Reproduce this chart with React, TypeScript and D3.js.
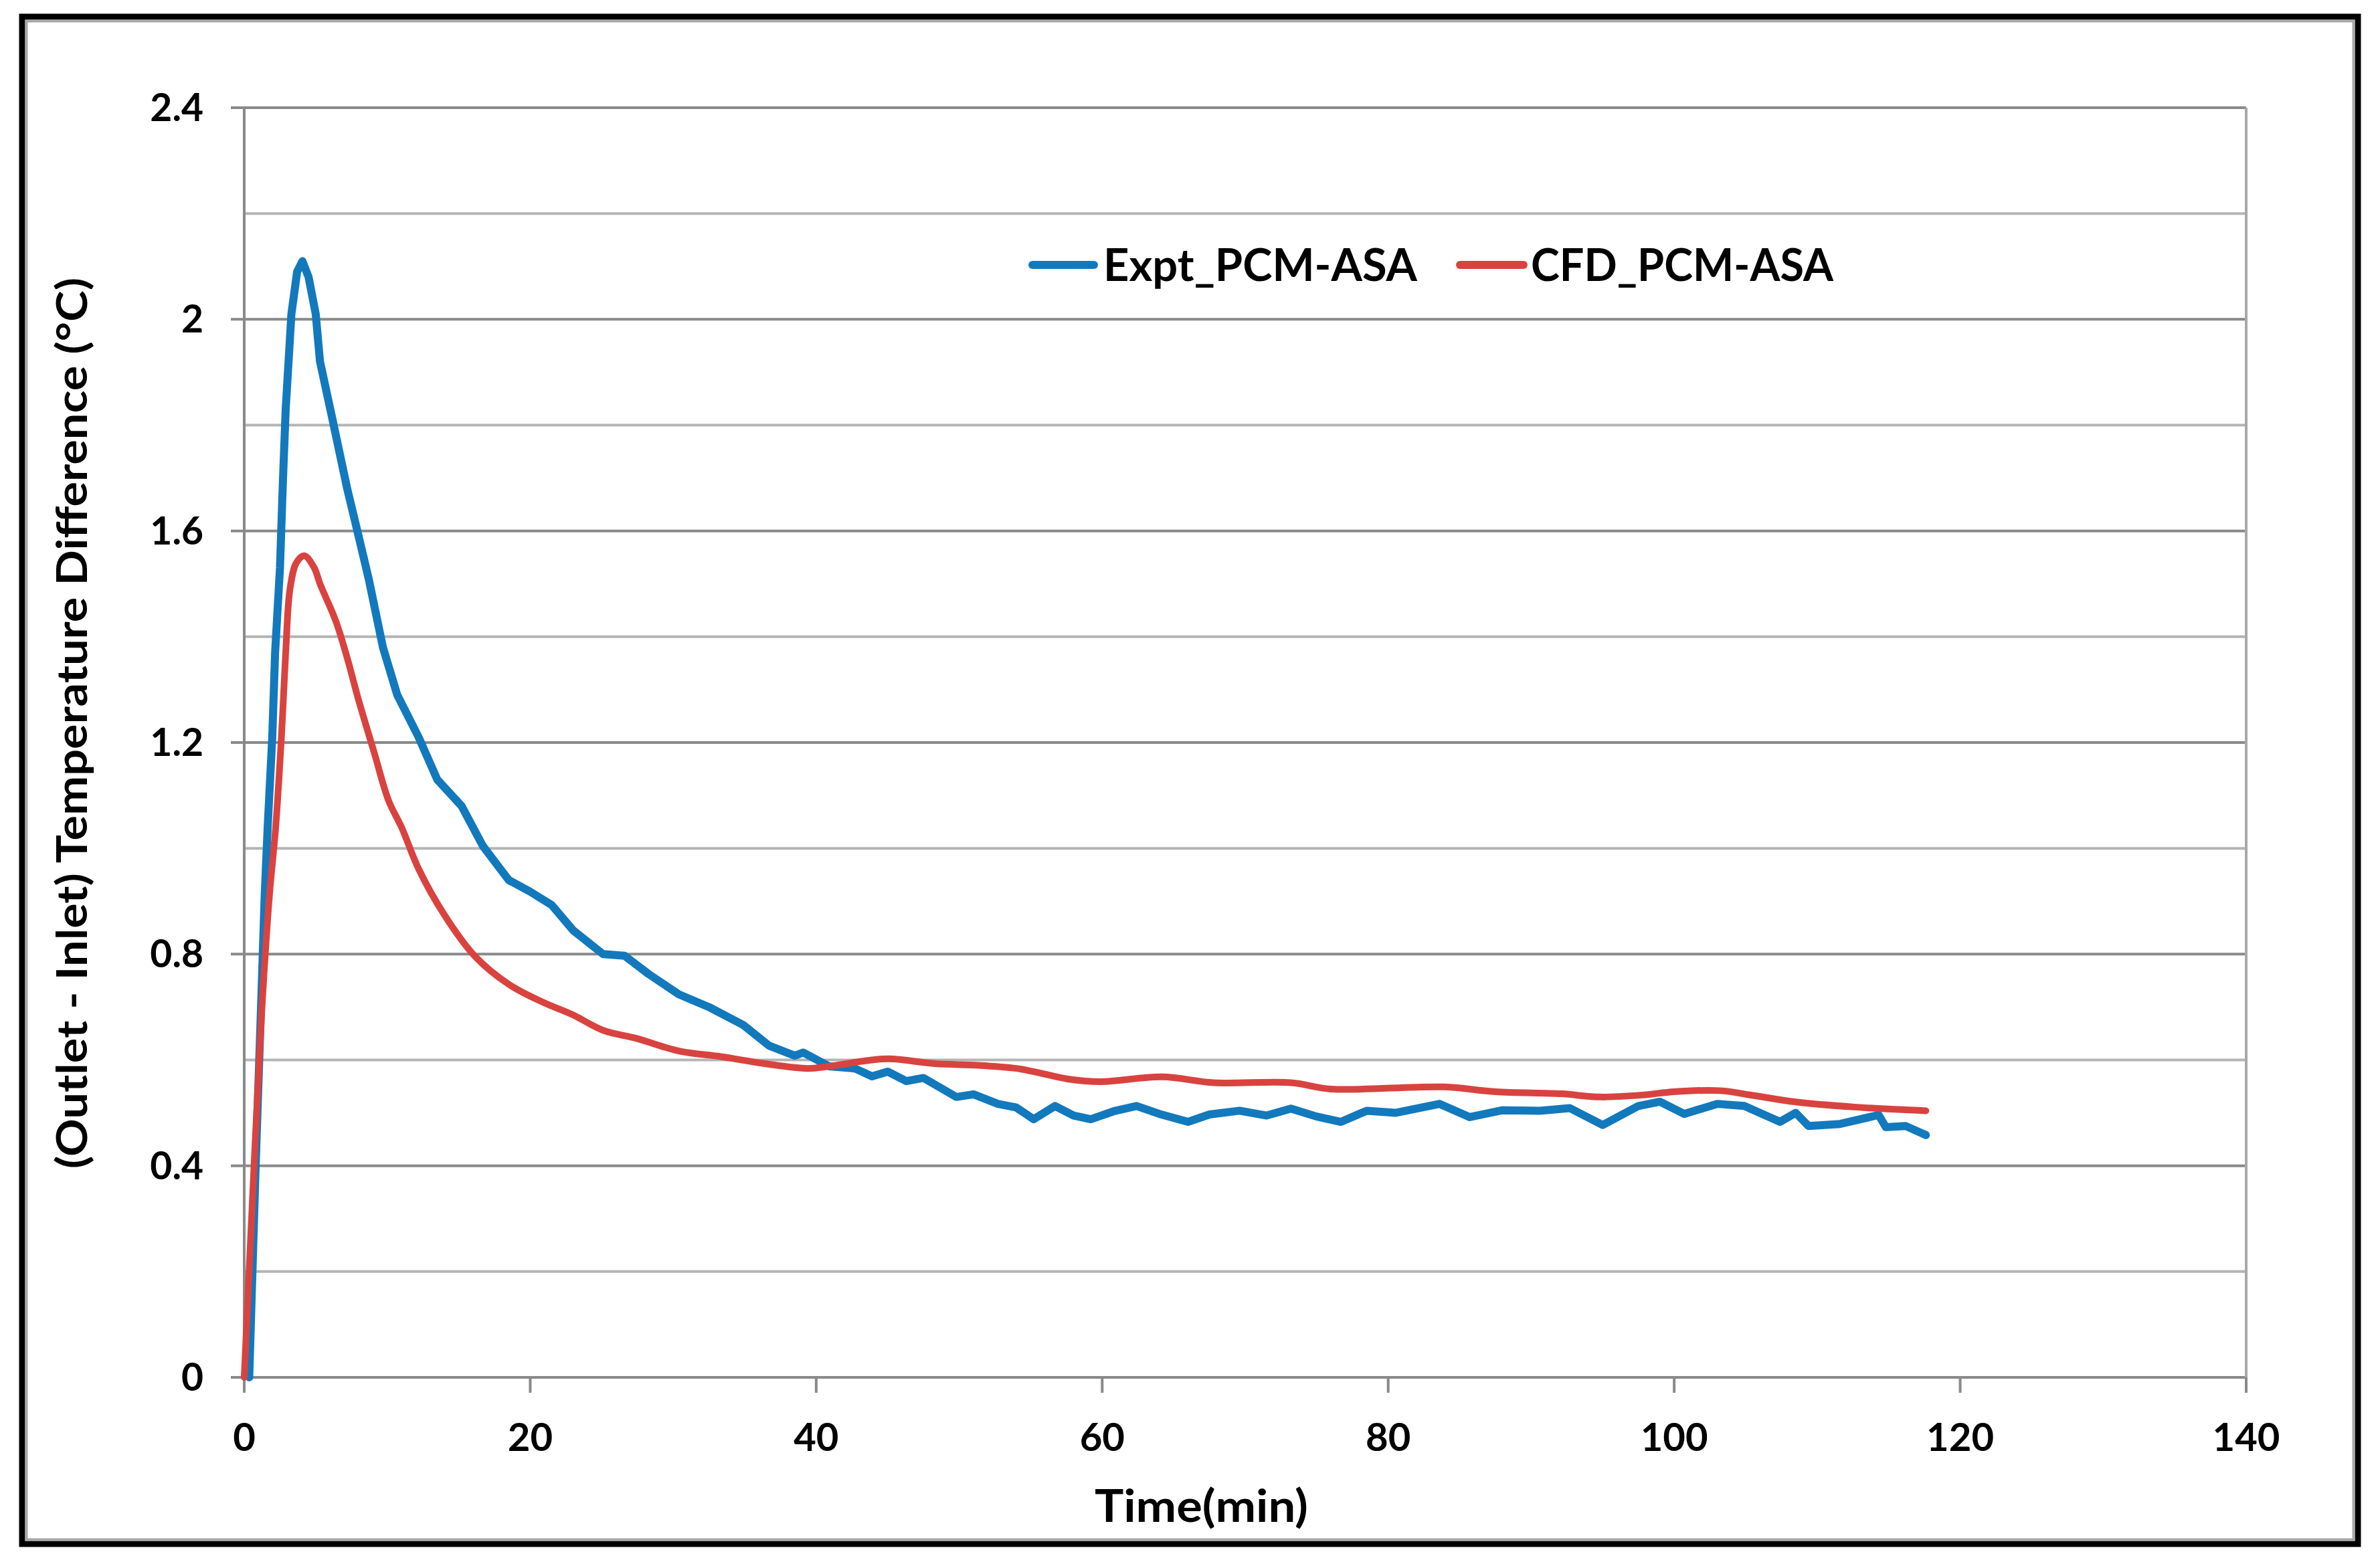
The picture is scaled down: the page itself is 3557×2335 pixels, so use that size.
import React from "react";
import * as d3 from "d3";

// values
const exptTime = [
  0.35, 0.8, 1.2, 1.43, 1.64, 1.96, 2.16, 2.5, 2.7, 2.9, 3.3, 3.7, 4.07, 4.5, 5.0, 5.3, 6.1, 7.2, 8.0, 8.7,
  9.7, 10.7, 12.2, 13.5, 15.2, 16.7, 18.5, 20.0, 21.5, 23.0, 25.1, 26.6, 28.3, 30.4, 32.5, 34.9, 36.7, 38.5,
  39.1, 40.9, 42.7, 43.9, 45.0, 46.3, 47.5, 49.8, 51.0, 52.7, 54.0, 55.2, 56.7, 58.0, 59.2, 60.8, 62.4, 64.0,
  66.0, 67.5, 69.6, 71.5, 73.2, 75.0, 76.7, 78.5, 80.5, 83.6, 85.7, 88.0, 90.6, 92.7, 95.0, 97.5, 99.0, 100.7,
  103.0, 104.9, 107.4, 108.5, 109.4, 111.6, 114.3, 114.8, 116.2, 117.6,
];
const exptValue = [
  0, 0.4, 0.72, 0.91, 1.04, 1.21, 1.37, 1.53, 1.69, 1.83, 2.01, 2.09, 2.11, 2.08, 2.01, 1.92, 1.82, 1.68, 1.59, 1.51,
  1.38, 1.29, 1.21, 1.13, 1.08, 1.004, 0.94, 0.918, 0.893, 0.845, 0.8, 0.797, 0.762, 0.724, 0.7, 0.666, 0.627, 0.608,
  0.614, 0.588, 0.584, 0.569, 0.578, 0.56, 0.566, 0.53, 0.535, 0.517, 0.51, 0.488, 0.513, 0.495, 0.488, 0.503, 0.513, 0.498,
  0.483, 0.497, 0.504, 0.495, 0.508, 0.493, 0.483, 0.504, 0.5, 0.517, 0.492, 0.505, 0.504, 0.509, 0.477, 0.513, 0.521, 0.498,
  0.517, 0.513, 0.483, 0.5, 0.475, 0.479, 0.496, 0.473, 0.475, 0.458,
];

const cfdTime = [
  0, 0.6, 1.2, 1.76, 2.2, 2.6, 2.9, 3.2, 3.65, 4.2, 4.9, 5.3, 6.4, 7.2, 8.0, 9.1, 10.1, 11.0, 12.2, 14.0,
  16.1, 18.5, 20.9, 23.0, 25.1, 27.4, 30.4, 33.4, 36.4, 39.4, 40.9, 43.9, 45.3, 48.3, 51.3, 54.0, 55.2, 57.6,
  59.9, 64.2, 67.8, 73.2, 76.0, 83.9, 87.5, 92.1, 94.8, 97.9, 100.0, 103.2, 105.3, 108.4, 112.6, 117.6,
];
const cfdValue = [
  0, 0.35, 0.68, 0.91, 1.04, 1.21, 1.37, 1.49, 1.54, 1.553, 1.53, 1.5, 1.43, 1.36, 1.28, 1.18, 1.09, 1.04, 0.961, 0.874,
  0.797, 0.743, 0.709, 0.685, 0.656, 0.641, 0.617, 0.606, 0.593, 0.584, 0.588, 0.6, 0.602, 0.593, 0.59, 0.584, 0.578, 0.564,
  0.559, 0.568, 0.557, 0.557, 0.545, 0.549, 0.54, 0.536, 0.53, 0.534, 0.54, 0.542, 0.534, 0.521, 0.511, 0.504,
];

const xTicks = [0, 20, 40, 60, 80, 100, 120, 140];
const yMajorTicks = [0, 0.4, 0.8, 1.2, 1.6, 2, 2.4];
const yMinorTicks = [0.2, 0.6, 1.0, 1.4, 1.8, 2.2];
const seriesNames = ["Expt_PCM-ASA", "CFD_PCM-ASA"];

const W = 3557;
const H = 2335;
const left = 365;
const right = 3357;
const top = 161;
const bottom = 2059;
const font = "Lato, 'Open Sans', sans-serif";
const blue = "#1379bd";
const red = "#d9433f";

const App: React.FC = () => {
  const x = d3.scaleLinear().domain([0, 140]).range([left, right]);
  const y = d3.scaleLinear().domain([0, 2.4]).range([bottom, top]);

  const expt = exptTime.map((t, i) => [t, exptValue[i]] as [number, number]);
  const cfd = cfdTime.map((t, i) => [t, cfdValue[i]] as [number, number]);

  const lineExpt = d3
    .line<[number, number]>()
    .x((d) => x(d[0]))
    .y((d) => y(d[1]))
    .curve(d3.curveLinear);
  const lineCfd = d3
    .line<[number, number]>()
    .x((d) => x(d[0]))
    .y((d) => y(d[1]))
    .curve(d3.curveCatmullRom.alpha(0.5));

  return (
    <svg width={W} height={H} style={{ position: "absolute", left: 0, top: 0, background: "#fff" }}>
      {/* outer frame */}
      <rect x={33} y={25} width={3491} height={2283} fill="#fff" stroke="#000" strokeWidth={9} />
      <rect x={39.5} y={31.5} width={3478} height={2270} fill="none" stroke="#a8a8a8" strokeWidth={4} />

      {/* minor gridlines */}
      {yMinorTicks.map((v) => (
        <line key={"mn" + v} x1={left} x2={right} y1={y(v)} y2={y(v)} stroke="#b5b5b5" strokeWidth={4} />
      ))}
      {/* major gridlines + ticks */}
      {yMajorTicks.map((v) => (
        <line key={"mj" + v} x1={left - 20} x2={right} y1={y(v)} y2={y(v)} stroke="#8a8a8a" strokeWidth={4} />
      ))}
      {/* axes */}
      <line x1={left} x2={left} y1={top} y2={bottom + 23} stroke="#8a8a8a" strokeWidth={4} />
      <line x1={right} x2={right} y1={top} y2={bottom} stroke="#a8a8a8" strokeWidth={4} />
      {xTicks.map((t) => (
        <line key={"xt" + t} x1={x(t)} x2={x(t)} y1={bottom} y2={bottom + 23} stroke="#8a8a8a" strokeWidth={4} />
      ))}

      {/* tick labels */}
      {yMajorTicks.map((v) => (
        <text key={"yl" + v} x={304} y={y(v) + 20} textAnchor="end" fontFamily={font} fontWeight="bold" fontSize={57}>
          {d3.format("~g")(v)}
        </text>
      ))}
      {xTicks.map((t) => (
        <text key={"xl" + t} x={x(t)} y={2169} textAnchor="middle" fontFamily={font} fontWeight="bold" fontSize={58}>
          {t}
        </text>
      ))}

      {/* series */}
      <path d={lineExpt(expt) ?? ""} fill="none" stroke={blue} strokeWidth={12} strokeLinejoin="round" strokeLinecap="round" />
      <path d={lineCfd(cfd) ?? ""} fill="none" stroke={red} strokeWidth={10} strokeLinejoin="round" strokeLinecap="round" />

      {/* legend */}
      <line x1={1543} x2={1635} y1={396} y2={396} stroke={blue} strokeWidth={12} strokeLinecap="round" />
      <text x={1649} y={420} fontFamily={font} fontWeight="bold" fontSize={67} textLength={469} lengthAdjust="spacingAndGlyphs">
        {seriesNames[0]}
      </text>
      <line x1={2182} x2={2277} y1={396} y2={396} stroke={red} strokeWidth={12} strokeLinecap="round" />
      <text x={2288} y={420} fontFamily={font} fontWeight="bold" fontSize={67} textLength={452} lengthAdjust="spacingAndGlyphs">
        {seriesNames[1]}
      </text>

      {/* axis titles */}
      <text x={1636} y={2275} fontFamily={font} fontWeight="bold" fontSize={67} textLength={319} lengthAdjust="spacingAndGlyphs">
        Time(min)
      </text>
      <text
        transform="translate(130,1747) rotate(-90)"
        x={0}
        y={0}
        fontFamily={font}
        fontWeight="bold"
        fontSize={64}
        textLength={1332}
        lengthAdjust="spacingAndGlyphs"
      >
        (Outlet - Inlet) Temperature Difference (°C)
      </text>
    </svg>
  );
};

export default App;
